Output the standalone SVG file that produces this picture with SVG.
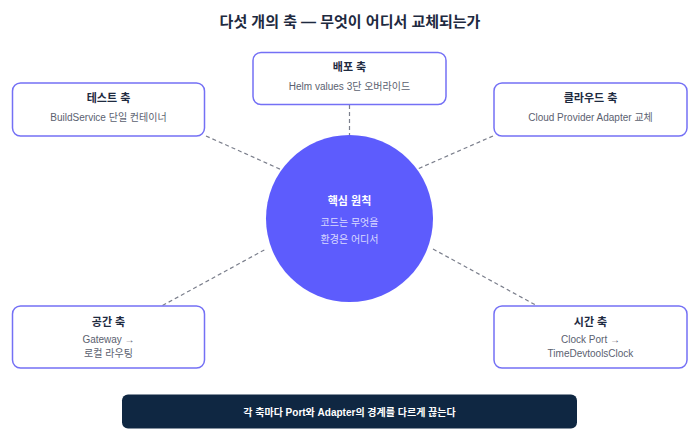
<svg xmlns="http://www.w3.org/2000/svg" width="700" height="438" viewBox="0 0 700 438">
<style>
text{font-family:"Liberation Sans","Noto Sans CJK KR",sans-serif;text-anchor:middle}
.title{font-size:15px;font-weight:bold;fill:#1e2a3f}
.box{fill:#ffffff;stroke:#7470f5;stroke-width:1.5}
.bt{font-size:11px;font-weight:bold;fill:#1e2a3f}
.bs{font-size:10px;fill:#5b6170}
.conn{stroke:#7b7f8c;stroke-width:1.2;stroke-dasharray:4 3;fill:none}
.ct{font-size:11px;font-weight:bold;fill:#ffffff}
.cs{font-size:10px;fill:#ffffff;fill-opacity:0.78}
.bar{fill:#0f2742}
.bart{font-size:10px;font-weight:bold;fill:#ffffff}
</style>
<rect width="700" height="438" fill="#ffffff"/>
<text class="title" x="350" y="27">다섯 개의 축 — 무엇이 어디서 교체되는가</text>
<g id="connectors">
<line class="conn" x1="349.5" y1="105" x2="349.5" y2="135"/>
<line class="conn" x1="206" y1="136" x2="282" y2="170"/>
<line class="conn" x1="493" y1="136" x2="417.5" y2="169"/>
<line class="conn" x1="162.5" y1="305.5" x2="266" y2="249"/>
<line class="conn" x1="433" y1="249" x2="536.5" y2="305.5"/>
</g>
<g id="deploy">
<rect class="box" x="253" y="52.5" width="193" height="52" rx="8"/>
<text class="bt" x="349.5" y="71">배포 축</text>
<text class="bs" x="349.5" y="89.5">Helm values 3단 오버라이드</text>
</g>
<g id="test">
<rect class="box" x="12.5" y="83" width="192" height="53" rx="8"/>
<text class="bt" x="108.5" y="102">테스트 축</text>
<text class="bs" x="108.5" y="120.5">BuildService 단일 컨테이너</text>
</g>
<g id="cloud">
<rect class="box" x="494" y="83" width="193" height="53" rx="8"/>
<text class="bt" x="590.5" y="102">클라우드 축</text>
<text class="bs" x="590.5" y="120.5">Cloud Provider Adapter 교체</text>
</g>
<g id="core">
<circle cx="349.5" cy="218.5" r="83.5" fill="#5d5cfd"/>
<text class="ct" x="349.5" y="205">핵심 원칙</text>
<text class="cs" x="349.5" y="225.5">코드는 무엇을</text>
<text class="cs" x="349.5" y="243">환경은 어디서</text>
</g>
<g id="space">
<rect class="box" x="12.5" y="306" width="192" height="62" rx="8"/>
<text class="bt" x="108.5" y="325.5">공간 축</text>
<text class="bs" x="108.5" y="343">Gateway →</text>
<text class="bs" x="108.5" y="356.5">로컬 라우팅</text>
</g>
<g id="time">
<rect class="box" x="494" y="306" width="193" height="62" rx="8"/>
<text class="bt" x="590.5" y="325.5">시간 축</text>
<text class="bs" x="590.5" y="343">Clock Port →</text>
<text class="bs" x="590.5" y="356.5">TimeDevtoolsClock</text>
</g>
<g id="summary">
<rect class="bar" x="122" y="394.5" width="455" height="34" rx="6"/>
<text class="bart" x="349.5" y="416">각 축마다 Port와 Adapter의 경계를 다르게 끊는다</text>
</g>
</svg>
